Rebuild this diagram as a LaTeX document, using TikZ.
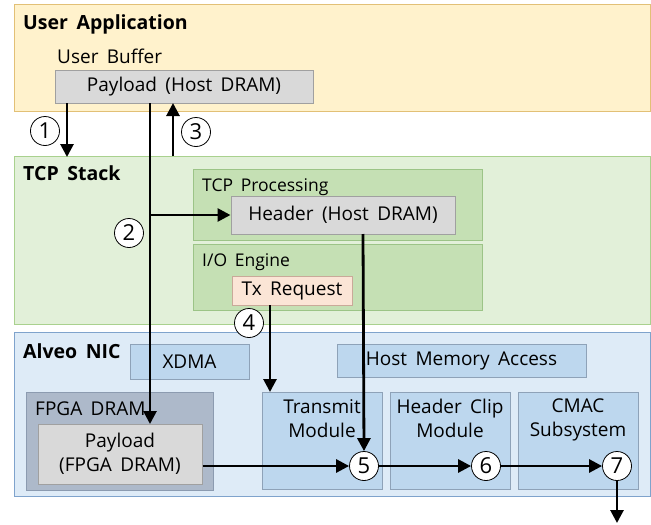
\documentclass[tikz,border=0pt]{standalone}
\usepackage{fontspec}
\setmainfont{Open Sans}[WordSpace=1.7]
\usetikzlibrary{arrows.meta}
\definecolor{uaFill}{HTML}{FFF2CC}
\definecolor{uaLine}{HTML}{E2C076}
\definecolor{tcpFill}{HTML}{E2F0D9}
\definecolor{tcpLine}{HTML}{A9D18E}
\definecolor{subFill}{HTML}{C5E0B4}
\definecolor{subLine}{HTML}{9CC487}
\definecolor{nicFill}{HTML}{DEEBF7}
\definecolor{nicLine}{HTML}{7FA3CC}
\definecolor{modFill}{HTML}{BDD7EE}
\definecolor{modLine}{HTML}{8EA2B8}
\definecolor{dramFill}{HTML}{ADB9CA}
\definecolor{dramLine}{HTML}{8C9BB0}
\definecolor{grayFill}{HTML}{D9D9D9}
\definecolor{grayLine}{HTML}{A0A0A0}
\definecolor{txFill}{HTML}{FBE5D6}
\definecolor{txLine}{HTML}{C9A999}
\tikzset{
  x=1pt, y=-1pt,
  boxA/.style={draw=#1Line, fill=#1Fill, line width=1pt},
  title/.style={anchor=base west, font=\fontsize{19.5}{21}\selectfont\bfseries, inner sep=0pt},
  lab/.style={anchor=base west, font=\fontsize{19}{21}\selectfont, inner sep=0pt},
  txt/.style={font=\fontsize{19}{24}\selectfont, align=center, inner sep=0pt},
  small/.style={anchor=base west, font=\fontsize{17.5}{19}\selectfont, inner sep=0pt},
  num/.style={circle, draw=black, fill=white, line width=0.8pt, minimum size=29pt, inner sep=0pt, font=\fontsize{22}{22}\selectfont},
  arr/.style={line width=2.8pt, -{Triangle[length=13pt,width=13pt]}},
}
\begin{document}
\begin{tikzpicture}
\useasboundingbox (0,0) rectangle (651,525);
% outer boxes
\draw[boxA=ua] (14,4) rectangle (650,111);
\node[title] (tUA) at (23,29) {User Application};
\node[lab] (tUB) at (57,63) {User Buffer};
\node[boxA=gray, minimum width=258pt, minimum height=33pt, txt] (pH) at (184,86.5) {Payload (Host DRAM)};

\draw[boxA=tcp] (14,156) rectangle (650,324);
\node[title] (tTCP) at (23,180) {TCP Stack};
\draw[boxA=sub] (193,169) rectangle (482,240);
\node[small] (tTP) at (202,191) {TCP Processing};
\node[boxA=gray, minimum width=224pt, minimum height=38pt, txt] (hH) at (343,215) {Header (Host DRAM)};
\draw[boxA=sub] (193,244) rectangle (482,310);
\node[small] (tIO) at (202,266) {I/O Engine};
\node[boxA=tx, minimum width=120pt, minimum height=29pt, txt] (tx) at (292,290.5) {Tx Request};

\draw[boxA=nic] (14,332) rectangle (650,496);
\node[title] (tNIC) at (23,358) {Alveo NIC};
\node[boxA=mod, minimum width=119pt, minimum height=35pt, txt] (xdma) at (189.5,361.5) {XDMA};
\node[boxA=mod, minimum width=249pt, minimum height=33pt, txt] (hma) at (461.5,360.5) {Host Memory Access};
\draw[boxA=dram] (26,392) rectangle (213,490);
\node[lab] (tFD) at (35,415) {FPGA DRAM};
\node[boxA=gray, minimum width=164pt, minimum height=60pt, txt] (pF) at (120,454) {Payload\\(FPGA DRAM)};
\node[boxA=mod, minimum width=120pt, minimum height=97pt] (tm) at (322,440.5) {};
\node[txt, anchor=north] (tmL) at (322,399) {Transmit\\Module};
\node[boxA=mod, minimum width=120pt, minimum height=97pt] (hc) at (450,440.5) {};
\node[txt, anchor=north] (hcL) at (450,399) {Header Clip\\Module};
\node[boxA=mod, minimum width=120pt, minimum height=97pt] (cm) at (578,440.5) {};
\node[txt, anchor=north] (cmL) at (578,399) {CMAC\\Subsystem};

% number circles
\node[num] (c1) at (45,131) {1};
\node[num] (c2) at (129,233) {2};
\node[num] (c3) at (196,132) {3};
\node[num] (c4) at (249,323) {4};

% coordinates
\coordinate (a1s) at (67,103);
\coordinate (a1e) at (67,157);
\coordinate (a3s) at (173,156);
\coordinate (a3e) at (173,103);
\coordinate (b2s) at (150,103);
\coordinate (b2e) at (150,424);
\coordinate (b2m) at (150,215);
\coordinate (a4s) at (270,305);
\coordinate (a4e) at (270,392);
\coordinate (hds) at (363,234);
\coordinate (out) at (617,523);

% connectors
\draw[arr] (a1s) -- (a1e);
\draw[arr] (a3s) -- (a3e);
\draw[arr] (b2s) -- (b2e);
\draw[arr] (b2m) -- (hH.west);
\draw[arr] (a4s) -- (a4e);
\node[num] (c5) at (364,466) {5};
\node[num] (c6) at (486,466) {6};
\node[num] (c7) at (617,466) {7};
\draw[arr] (hds) -- (c5.north);
\draw[arr] (pF.east |- c5) -- (c5.west);
\draw[arr] (c5.east) -- (c6.west);
\draw[arr] (c6.east) -- (c7.west);
\draw[arr] (c7.south) -- (out);
\end{tikzpicture}
\end{document}
